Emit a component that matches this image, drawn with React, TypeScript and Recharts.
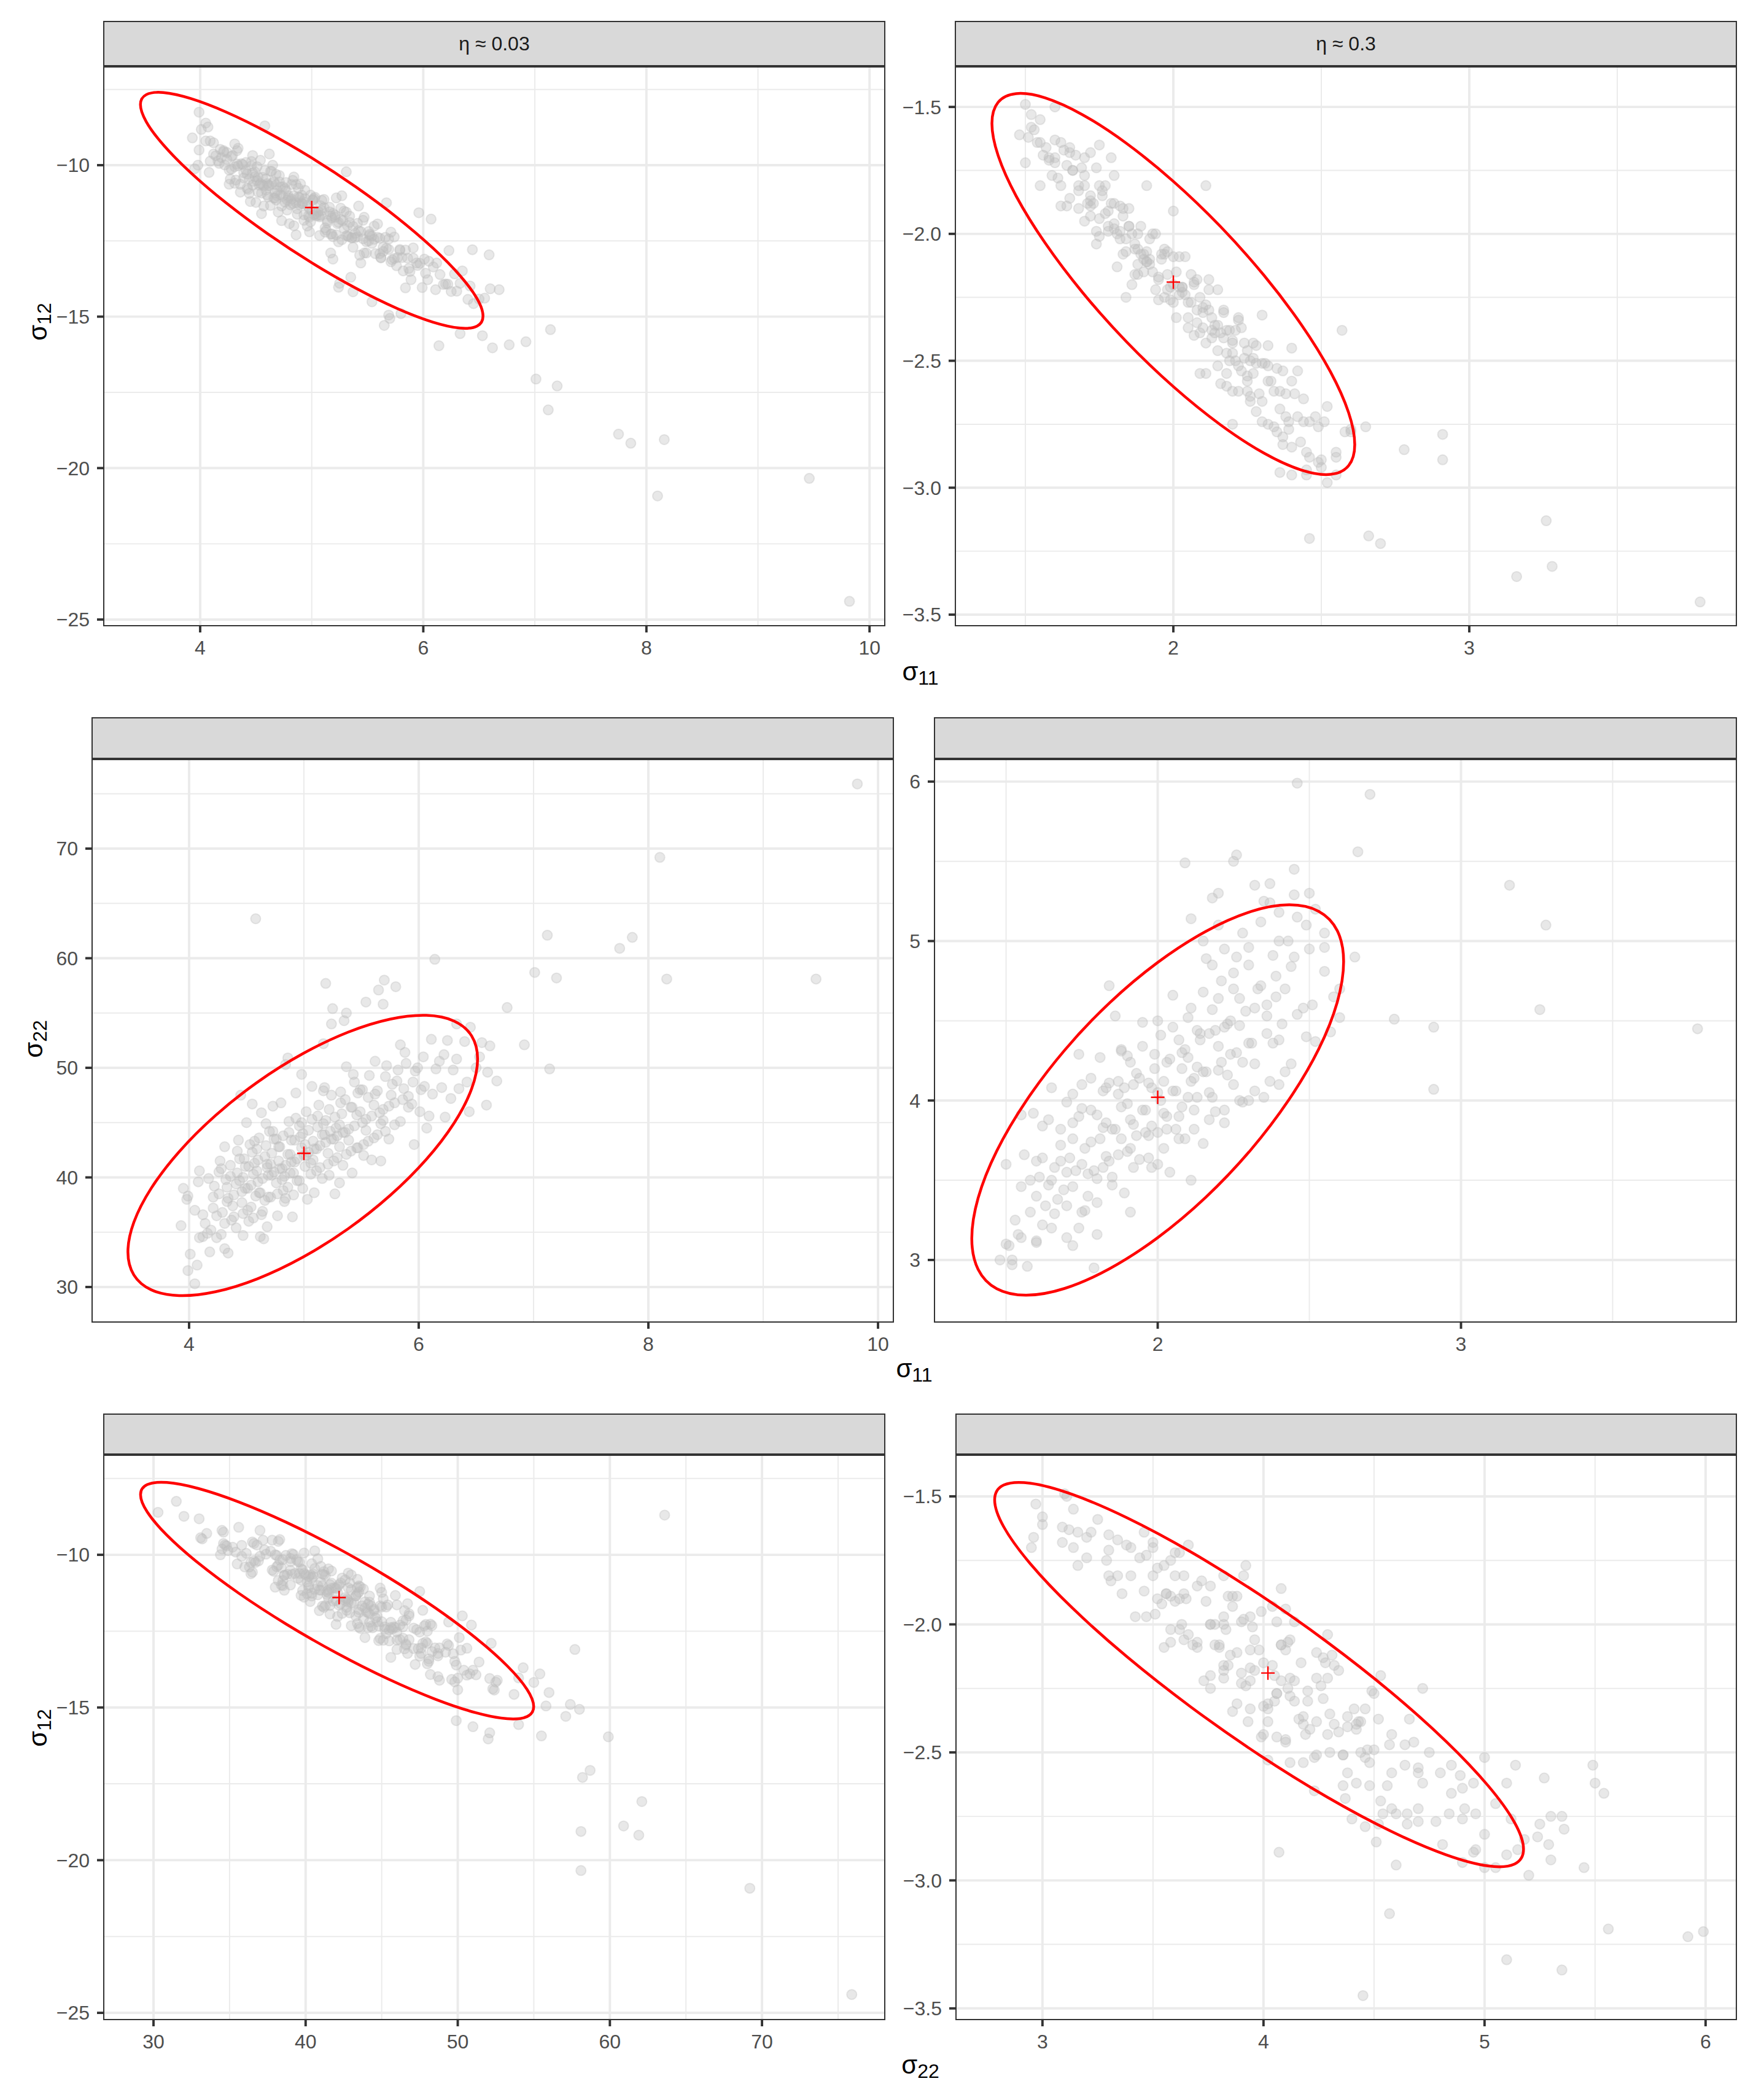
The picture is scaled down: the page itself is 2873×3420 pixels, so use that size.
import React from 'react'
import { ScatterChart, Scatter, XAxis, YAxis, CartesianGrid } from 'recharts'

const FONT = "'Liberation Sans', Arial, Helvetica, sans-serif"

// posterior draws, eta ~ 0.03: [sigma11, sigma22, sigma12]
const lowDraws = [
  [4.01, 33.0, -8.82], [3.98, 38.0, -10.0], [4.05, 30.3, -8.61], [4.12, 36.6, -9.63], [4.09, 40.6, -9.87],
  [4.16, 34.9, -9.86], [4.21, 38.2, -9.56], [4.18, 33.2, -9.48], [4.26, 40.5, -10.63], [4.24, 36.5, -9.58],
  [4.31, 42.8, -10.6], [4.28, 34.8, -9.71], [4.33, 37.8, -9.52], [4.36, 40.1, -10.89], [4.34, 33.1, -9.44],
  [4.41, 39.4, -10.16], [4.39, 36.4, -10.25], [4.42, 42.4, -10.76], [4.46, 37.7, -9.88], [4.44, 41.7, -10.93],
  [4.47, 34.7, -9.68], [4.51, 39.0, -10.51], [4.49, 41.0, -10.38], [4.52, 36.0, -10.4], [4.5, 45.0, -11.23],
  [4.56, 40.3, -10.65], [4.54, 37.3, -9.84], [4.57, 43.3, -11.35], [4.61, 38.6, -10.67], [4.59, 42.6, -10.82],
  [4.62, 34.6, -9.63], [4.6, 39.6, -10.61], [4.66, 41.9, -11.08], [4.64, 36.9, -10.2], [4.67, 44.9, -11.09],
  [4.71, 41.2, -10.55], [4.69, 38.2, -10.84], [4.72, 40.2, -10.71], [4.7, 44.2, -11.55], [4.76, 39.5, -10.77],
  [4.74, 43.5, -11.02], [4.77, 36.5, -10.57], [4.81, 40.8, -11.31], [4.79, 42.8, -11.08], [4.82, 38.8, -10.64],
  [4.8, 46.8, -11.93], [4.86, 42.1, -11.24], [4.84, 38.1, -10.39], [4.87, 45.1, -11.44], [4.91, 40.4, -11.26],
  [4.89, 43.4, -11.07], [4.92, 41.4, -11.2], [4.9, 36.4, -10.62], [4.96, 44.7, -12.01], [4.94, 39.7, -10.83],
  [5.0, 42.0, -11.5], [5.02, 46.0, -11.64], [4.99, 39.0, -10.99], [5.01, 43.0, -11.14], [5.06, 41.3, -11.66],
  [5.04, 44.3, -11.67], [5.07, 48.3, -12.32], [5.11, 42.6, -11.4], [5.09, 38.6, -11.16], [5.12, 45.6, -12.21],
  [5.16, 43.9, -11.54], [5.14, 40.9, -11.83], [5.17, 47.9, -12.28], [5.21, 42.2, -11.65], [5.19, 45.2, -12.36],
  [5.22, 40.2, -11.08], [5.26, 43.5, -11.79], [5.24, 47.5, -12.53], [5.27, 38.5, -11.01], [5.31, 44.8, -12.33],
  [5.29, 41.8, -11.52], [5.32, 46.8, -12.0], [5.36, 44.1, -12.39], [5.34, 41.1, -11.68], [5.37, 50.1, -12.71],
  [5.41, 46.4, -12.36], [5.39, 43.4, -12.25], [5.42, 40.4, -11.35], [5.46, 45.7, -12.43], [5.44, 48.7, -13.23],
  [5.47, 42.7, -11.72], [5.51, 45.0, -12.19], [5.49, 48.0, -12.9], [5.52, 42.0, -12.28], [5.56, 47.3, -12.45],
  [5.54, 44.3, -12.34], [5.61, 46.6, -12.92], [5.59, 41.6, -11.94], [5.62, 50.6, -13.06], [5.66, 45.9, -12.38],
  [5.64, 43.9, -12.71], [5.71, 49.2, -13.19], [5.69, 45.2, -12.44], [5.76, 47.5, -13.32], [5.74, 43.5, -12.37],
  [5.81, 48.8, -13.05], [5.79, 44.8, -12.81], [5.86, 47.1, -13.07], [5.84, 52.1, -14.05], [5.91, 46.4, -12.73],
  [5.89, 50.4, -13.78], [5.95, 48.7, -13.31], [6.01, 46.0, -13.1], [5.99, 50.0, -14.04], [6.05, 48.3, -13.17],
  [6.11, 52.6, -14.11], [6.09, 45.6, -13.36], [6.15, 49.9, -13.61], [6.2, 48.2, -13.92], [6.25, 52.5, -14.17],
  [6.3, 49.8, -14.16], [6.35, 48.1, -13.49], [6.4, 52.4, -14.43], [6.5, 50.0, -14.42], [6.55, 52.3, -14.39],
  [5.31, 39.5, -10.22], [5.67, 41.5, -11.24], [5.96, 43.0, -11.57], [6.07, 44.5, -11.78], [6.23, 45.5, -12.82],
  [6.44, 46.0, -12.79], [6.59, 46.6, -12.96], [6.68, 48.8, -14.11], [7.14, 49.9, -15.43], [5.65, 57.1, -15.29],
  [5.19, 57.7, -13.1], [5.7, 58.0, -15.06], [5.8, 57.4, -14.9], [5.25, 55.4, -13.9], [6.14, 59.9, -15.96],
  [6.62, 52.0, -16.03], [6.77, 55.5, -15.93], [6.92, 52.1, -15.83], [6.33, 54.0, -15.56], [6.53, 51.0, -15.63],
  [7.01, 58.7, -17.06], [7.12, 62.1, -18.08], [7.2, 58.2, -17.29], [7.75, 60.9, -18.88], [7.86, 61.9, -19.18],
  [8.1, 69.2, -20.92], [8.16, 58.1, -19.06], [9.46, 58.1, -20.34], [9.82, 75.9, -24.4], [4.58, 63.6, -8.7],
  [3.99, 31.5, -8.25], [3.93, 35.6, -9.1], [3.99, 38.3, -9.5], [4.05, 37.0, -9.2], [5.35, 54.3, -13.7],
  [4.86, 50.9, -12.3], [4.84, 50.3, -12.0], [5.17, 52.2, -12.9], [4.98, 49.4, -12.2], [4.55, 46.7, -11.6],
  [4.45, 47.5, -11.2], [4.09, 34.5, -9.2], [4.31, 33.5, -9.3], [4.65, 34.4, -10.0], [4.68, 35.5, -10.3],
  [3.95, 39.0, -10.12], [4.07, 32.0, -8.74], [5.24, 54.0, -14.03], [5.37, 55.0, -14.18], [5.54, 56.0, -14.51],
  [5.69, 55.8, -14.95],
  [4.12, 34.6, -9.26], [4.08, 39.6, -10.24], [4.14, 35.8, -9.69], [4.17, 39.9, -9.94], [4.19, 35.2, -9.75],
  [4.22, 39.2, -9.99], [4.21, 37.2, -9.52], [4.24, 34.5, -9.81], [4.27, 41.5, -10.46], [4.26, 38.5, -10.16],
  [4.29, 36.8, -9.68], [4.32, 39.8, -10.49], [4.31, 35.8, -10.05], [4.28, 40.8, -10.13], [4.34, 38.1, -10.02],
  [4.37, 36.1, -9.95], [4.36, 41.1, -10.63], [4.33, 39.1, -9.96], [4.39, 38.4, -10.42], [4.42, 40.4, -10.29],
  [4.41, 35.4, -9.91], [4.38, 37.4, -9.98], [4.43, 43.4, -10.8], [4.44, 39.7, -10.46], [4.47, 36.7, -10.25],
  [4.46, 38.7, -10.02], [4.48, 41.7, -10.53], [4.49, 39.0, -10.22], [4.52, 41.0, -10.89], [4.51, 37.0, -10.05],
  [4.53, 43.0, -10.66], [4.47, 40.0, -10.66], [4.54, 39.3, -10.61], [4.57, 41.3, -10.68], [4.56, 36.3, -10.4],
  [4.58, 38.3, -10.17], [4.55, 42.3, -10.92], [4.59, 40.6, -10.45], [4.62, 38.6, -10.67], [4.61, 43.6, -11.05],
  [4.63, 36.6, -10.2], [4.6, 41.6, -10.98], [4.64, 39.9, -10.61], [4.67, 42.9, -10.92], [4.66, 37.9, -10.54],
  [4.68, 40.9, -11.15], [4.63, 45.9, -11.33], [4.69, 40.2, -11.01], [4.72, 42.2, -10.98], [4.71, 38.2, -10.34],
  [4.73, 44.2, -11.35], [4.68, 41.2, -10.65], [4.74, 40.5, -10.71], [4.77, 38.5, -10.84], [4.76, 43.5, -11.22],
  [4.78, 41.5, -11.15], [4.73, 46.5, -11.83], [4.79, 40.8, -11.01], [4.82, 43.8, -11.12], [4.81, 39.8, -11.17],
  [4.83, 37.8, -10.5], [4.78, 42.8, -11.48], [4.84, 41.1, -11.01], [4.87, 44.1, -11.62], [4.86, 39.1, -10.64],
  [4.88, 42.1, -11.05], [4.83, 40.1, -11.27], [4.89, 41.4, -11.3], [4.92, 43.4, -11.27], [4.91, 38.4, -10.99],
  [4.93, 45.4, -11.64], [4.88, 40.4, -10.76], [4.94, 41.7, -11.1], [4.97, 43.7, -11.67], [4.96, 39.7, -11.33],
  [4.98, 42.7, -11.44], [4.93, 47.7, -11.82], [5.01, 41.0, -11.16], [4.99, 44.0, -11.87], [5.02, 42.0, -11.1],
  [5.03, 38.0, -11.06], [4.98, 45.0, -11.71], [5.04, 42.3, -11.6], [5.07, 45.3, -11.71], [5.06, 40.3, -11.53],
  [5.08, 43.3, -11.34], [5.09, 42.6, -11.5], [5.12, 44.6, -12.07], [5.11, 40.6, -11.13], [5.13, 46.6, -12.14],
  [5.08, 41.6, -11.66], [5.14, 42.9, -11.9], [5.17, 44.9, -11.67], [5.16, 39.9, -11.39], [5.18, 43.9, -11.74],
  [5.19, 43.2, -11.59], [5.22, 46.2, -12.3], [5.21, 41.2, -11.72], [5.23, 44.2, -11.93], [5.18, 48.2, -12.27],
  [5.24, 43.5, -11.89], [5.27, 45.5, -12.46], [5.26, 41.5, -11.42], [5.28, 44.5, -11.83], [5.29, 43.8, -12.09],
  [5.32, 47.8, -12.33], [5.31, 42.8, -11.55], [5.33, 45.8, -12.36], [5.34, 44.1, -11.89], [5.37, 42.1, -12.02],
  [5.36, 47.1, -12.4], [5.39, 44.4, -12.39], [5.42, 46.4, -12.16], [5.41, 42.4, -11.92], [5.43, 49.4, -12.97],
  [5.44, 44.7, -12.19], [5.47, 47.7, -12.9], [5.46, 42.7, -11.82], [5.49, 46.0, -12.53], [5.52, 43.0, -12.32],
  [5.51, 48.0, -12.5], [5.54, 45.3, -12.58], [5.57, 49.3, -12.92], [5.56, 43.3, -12.01], [5.59, 45.6, -12.38],
  [5.62, 47.6, -13.05], [5.61, 43.6, -12.41], [5.64, 47.9, -12.85], [5.67, 44.9, -12.74], [5.69, 46.2, -12.78],
  [5.72, 50.2, -13.12], [5.71, 44.2, -12.21], [5.74, 46.5, -13.08], [5.77, 48.5, -13.05], [5.79, 46.8, -12.78],
  [5.82, 49.8, -13.49], [5.84, 45.1, -12.8], [5.87, 48.1, -13.41], [5.91, 47.4, -13.07], [5.88, 51.4, -13.51],
  [5.94, 46.7, -13.23], [5.97, 49.7, -13.24], [6.02, 48.0, -13.57], [6.04, 51.0, -13.78], [6.12, 47.6, -13.23],
  [6.18, 50.6, -13.94], [6.22, 51.2, -13.93], [6.28, 47.2, -13.59], [6.33, 50.8, -13.9], [6.45, 53.7, -14.57],
  [6.42, 48.7, -13.99], [6.6, 49.6, -14.08],
]

// posterior draws, eta ~ 0.3: [sigma11, sigma22, sigma12]
const highDraws = [
  [1.5, 3.1, -1.49], [1.5, 3.6, -1.72], [1.52, 2.97, -1.53], [1.55, 3.46, -1.64], [1.55, 3.91, -1.81],
  [1.58, 3.3, -1.71], [1.6, 3.62, -1.72], [1.6, 3.12, -1.63], [1.62, 3.84, -1.89], [1.64, 3.47, -1.73],
  [1.65, 4.08, -1.86], [1.66, 3.29, -1.75], [1.68, 3.62, -1.9], [1.68, 3.82, -1.81], [1.7, 3.14, -1.7],
  [1.7, 3.99, -1.95], [1.72, 3.76, -1.85], [1.72, 3.46, -1.87], [1.74, 4.29, -2.04], [1.75, 3.6, -1.81],
  [1.75, 3.95, -2.01], [1.76, 3.31, -1.83], [1.78, 3.74, -1.91], [1.78, 4.14, -1.99], [1.8, 3.51, -1.96],
  [1.8, 3.91, -1.98], [1.8, 3.16, -1.77], [1.81, 4.27, -2.13], [1.82, 3.83, -2.02], [1.83, 3.65, -1.9],
  [1.84, 4.11, -2.07], [1.85, 3.47, -1.97], [1.85, 3.82, -1.97], [1.86, 4.53, -2.2], [1.87, 4.04, -2.16],
  [1.88, 3.76, -2.0], [1.88, 4.31, -2.12], [1.89, 3.42, -1.97], [1.9, 3.98, -2.1], [1.9, 3.68, -2.08],
  [1.91, 4.24, -2.11], [1.92, 3.85, -2.12], [1.93, 4.17, -2.15], [1.94, 3.63, -2.0], [1.95, 3.94, -2.17],
  [1.95, 4.49, -2.26], [1.96, 3.8, -2.08], [1.97, 4.11, -2.25], [1.98, 3.58, -2.07], [1.99, 4.29, -2.21],
  [2.0, 4.05, -2.2], [2.0, 3.8, -2.09], [2.01, 4.41, -2.33], [2.02, 3.92, -2.24], [2.03, 4.24, -2.21],
  [2.04, 3.55, -2.09], [2.05, 4.06, -2.27], [2.05, 4.66, -2.37], [2.06, 3.82, -2.16], [2.07, 4.38, -2.4],
  [2.08, 4.2, -2.3], [2.09, 3.76, -2.25], [2.1, 4.27, -2.29], [2.1, 4.02, -2.31], [2.11, 4.58, -2.43],
  [2.12, 3.94, -2.22], [2.13, 4.21, -2.41], [2.14, 4.42, -2.39], [2.15, 3.73, -2.22], [2.15, 4.18, -2.36],
  [2.16, 4.89, -2.59], [2.17, 4.05, -2.3], [2.18, 4.57, -2.47], [2.19, 3.93, -2.38], [2.2, 4.34, -2.42],
  [2.2, 4.19, -2.43], [2.21, 4.75, -2.5], [2.22, 3.86, -2.34], [2.23, 4.48, -2.54], [2.24, 4.29, -2.43],
  [2.25, 4.1, -2.46], [2.25, 4.7, -2.56], [2.27, 4.47, -2.49], [2.28, 3.99, -2.44], [2.3, 4.96, -2.74],
  [2.3, 4.36, -2.51], [2.32, 4.23, -2.52], [2.33, 4.7, -2.58], [2.35, 4.02, -2.53], [2.36, 4.53, -2.69],
  [2.38, 4.91, -2.72], [2.4, 4.38, -2.58], [2.42, 4.7, -2.72], [2.44, 4.23, -2.65], [2.45, 5.29, -2.86],
  [2.48, 4.58, -2.72], [2.5, 4.95, -2.89], [2.52, 4.37, -2.68], [2.55, 4.81, -2.86], [2.58, 4.65, -2.78],
  [1.6, 3.11, -1.5], [1.48, 3.0, -1.61], [1.53, 3.25, -1.59], [2.11, 3.5, -1.81], [1.91, 3.3, -1.81],
  [2.0, 3.6, -1.91], [2.09, 5.49, -2.55], [2.25, 5.5, -2.62], [2.26, 5.54, -2.66], [2.32, 5.35, -2.75],
  [2.37, 5.36, -2.8], [2.18, 5.27, -2.6], [2.37, 5.24, -2.83], [2.11, 5.14, -2.55], [1.84, 4.72, -2.25],
  [1.51, 3.09, -1.62], [1.52, 3.0, -1.58], [1.57, 2.96, -1.66], [1.79, 2.95, -1.7], [1.72, 3.09, -1.68],
  [1.55, 3.14, -1.55], [2.7, 5.92, -3.22], [2.46, 5.99, -3.2], [2.66, 5.56, -3.19], [2.91, 4.46, -2.79],
  [2.91, 4.07, -2.89], [2.78, 4.51, -2.85], [3.78, 4.45, -3.45], [3.28, 5.1, -3.31], [3.26, 4.57, -3.13],
  [3.16, 5.35, -3.35], [2.57, 4.43, -2.38], [2.45, 4.9, -2.93], [2.49, 5.1, -2.9], [2.6, 4.7, -2.77],
  [2.65, 4.9, -2.76], [2.4, 5.0, -2.95], [2.36, 4.6, -2.94], [2.3, 4.0, -2.32], [2.4, 4.1, -2.45],
  [1.75, 3.3, -1.65], [1.65, 3.5, -1.68], [2.45, 5.45, -2.95], [2.2, 5.3, -2.75], [2.52, 5.2, -2.98],
  [1.56, 3.66, -1.69], [1.54, 3.16, -1.64], [1.61, 3.52, -1.78], [1.59, 3.92, -1.77], [1.62, 3.22, -1.64],
  [1.66, 3.58, -1.75], [1.64, 3.88, -1.89], [1.67, 3.38, -1.69], [1.71, 3.64, -1.88], [1.69, 3.44, -1.74],
  [1.72, 4.04, -1.93], [1.7, 3.34, -1.81], [1.76, 3.7, -1.85], [1.74, 3.9, -1.99], [1.77, 3.4, -1.81],
  [1.75, 4.1, -1.94], [1.81, 3.76, -2.0], [1.79, 3.56, -1.88], [1.82, 4.06, -1.99], [1.8, 3.36, -1.88],
  [1.83, 3.86, -1.93], [1.86, 3.82, -2.0], [1.84, 3.62, -2.02], [1.87, 4.12, -2.06], [1.85, 3.52, -1.9],
  [1.88, 4.32, -2.16], [1.91, 3.88, -2.11], [1.89, 4.08, -2.08], [1.92, 3.58, -2.02], [1.9, 4.28, -2.15],
  [1.93, 3.78, -2.0], [1.96, 3.94, -2.1], [1.94, 4.14, -2.22], [1.97, 3.64, -2.06], [1.95, 4.34, -2.18],
  [1.98, 3.84, -2.16], [2.01, 4.0, -2.15], [1.99, 4.2, -2.26], [2.02, 3.7, -2.09], [2.0, 4.5, -2.27],
  [2.03, 3.9, -2.23], [2.06, 4.06, -2.27], [2.04, 4.26, -2.24], [2.07, 3.76, -2.2], [2.05, 4.46, -2.33],
  [2.08, 3.96, -2.18], [2.11, 4.12, -2.28], [2.09, 4.32, -2.39], [2.12, 3.82, -2.18], [2.1, 4.52, -2.37],
  [2.13, 4.02, -2.33], [2.16, 4.18, -2.39], [2.14, 4.38, -2.36], [2.17, 3.88, -2.31], [2.15, 4.68, -2.46],
  [2.21, 4.24, -2.38], [2.19, 4.44, -2.5], [2.22, 3.94, -2.33], [2.2, 4.64, -2.47], [2.26, 4.3, -2.5],
  [2.24, 4.5, -2.49], [2.27, 4.0, -2.43], [2.25, 4.8, -2.58], [2.31, 4.36, -2.51], [2.29, 4.56, -2.63],
  [2.32, 4.06, -2.44], [2.36, 4.42, -2.62], [2.34, 4.72, -2.62], [2.37, 4.12, -2.54], [2.41, 4.48, -2.63],
  [2.39, 4.78, -2.77], [2.42, 4.18, -2.54], [2.46, 4.54, -2.74], [2.44, 4.84, -2.74], [2.51, 4.6, -2.74],
  [2.49, 4.4, -2.76], [2.55, 4.96, -2.88], [2.6, 4.52, -2.78],
  [1.78, 3.94, -1.97], [1.77, 3.54, -1.92], [1.82, 3.58, -1.89], [1.83, 4.08, -2.08], [1.88, 3.96, -2.06],
  [1.87, 3.66, -2.04], [1.92, 4.1, -2.1], [1.91, 3.7, -2.07], [1.98, 4.08, -2.22], [1.97, 3.78, -2.08],
  [2.02, 4.12, -2.21], [2.03, 3.82, -2.21], [2.08, 4.3, -2.35], [2.07, 3.9, -2.19], [2.12, 4.14, -2.3],
  [2.13, 4.44, -2.38], [2.18, 4.02, -2.38], [2.17, 4.42, -2.41], [2.22, 4.46, -2.52], [2.23, 4.16, -2.37],
  [2.28, 4.24, -2.51], [2.27, 4.64, -2.55], [2.32, 4.58, -2.58], [2.38, 4.36, -2.63], [1.72, 3.86, -1.89],
  [1.73, 3.56, -1.88], [1.68, 3.72, -1.83], [1.62, 3.64, -1.81], [1.63, 3.34, -1.67],
  [2.22, 4.95, -2.62], [2.28, 5.05, -2.7], [2.34, 5.12, -2.76], [2.4, 5.18, -2.84], [2.3, 4.85, -2.66],
  [2.43, 5.0, -2.82], [2.5, 5.3, -2.92], [2.35, 5.25, -2.78], [2.18, 4.85, -2.55], [2.26, 4.9, -2.64],
  [2.46, 5.15, -2.88], [2.55, 5.05, -2.95], [2.15, 5.0, -2.52], [2.39, 4.65, -2.74], [2.2, 5.1, -2.62],
  [1.6, 3.4, -1.7], [1.7, 3.55, -1.77], [1.65, 3.2, -1.66], [1.58, 3.5, -1.7], [1.74, 3.2, -1.74],
]

// true values (red crosses): [sigma11, sigma22, sigma12]
const lowCentre = [5.0, 42.2, -11.4]
const highCentre = [2.0, 4.02, -2.19]

// red ellipse outlines
const ellLow11v12 = [
  [6.553, -15.02], [6.5, -14.447], [6.345, -13.672], [6.098, -12.749], [5.777, -11.739], [5.402, -10.713],
  [5.0, -9.74], [4.598, -8.885], [4.224, -8.209], [3.902, -7.757], [3.655, -7.558], [3.5, -7.627],
  [3.447, -7.96], [3.5, -8.533], [3.655, -9.308], [3.902, -10.231], [4.223, -11.241], [4.598, -12.267],
  [5.0, -13.24], [5.402, -14.095], [5.776, -14.771], [6.098, -15.223], [6.345, -15.422], [6.5, -15.353],
]
const ellHigh11v12 = [
  [2.62, -2.8375], [2.599, -2.7098], [2.537, -2.5472], [2.438, -2.3608], [2.31, -2.1633], [2.161, -1.9682],
  [2.0, -1.7885], [1.839, -1.6366], [1.69, -1.5233], [1.562, -1.4558], [1.463, -1.4388], [1.401, -1.4734],
  [1.38, -1.5575], [1.401, -1.6852], [1.463, -1.8478], [1.562, -2.0342], [1.69, -2.2317], [1.839, -2.4268],
  [2.0, -2.6065], [2.161, -2.7584], [2.31, -2.8717], [2.438, -2.9392], [2.537, -2.9562], [2.599, -2.9216],
]
const ellLow11v22 = [
  [6.53, 50.9], [6.478, 53.03], [6.324, 54.4], [6.079, 54.93], [5.76, 54.58], [5.389, 53.38],
  [4.99, 51.39], [4.591, 48.77], [4.22, 45.68], [3.901, 42.35], [3.656, 38.99], [3.502, 35.84],
  [3.45, 33.1], [3.502, 30.97], [3.656, 29.6], [3.901, 29.07], [4.22, 29.42], [4.591, 30.62],
  [4.99, 32.61], [5.389, 35.23], [5.76, 38.32], [6.079, 41.65], [6.324, 45.01], [6.478, 48.16],
]
const ellHigh11v22 = [
  [2.62, 4.881], [2.599, 5.077], [2.537, 5.2], [2.438, 5.241], [2.31, 5.198], [2.161, 5.073],
  [2.0, 4.876], [1.839, 4.619], [1.69, 4.32], [1.562, 3.999], [1.463, 3.68], [1.401, 3.381],
  [1.38, 3.125], [1.401, 2.929], [1.463, 2.806], [1.562, 2.765], [1.69, 2.808], [1.839, 2.933],
  [2.0, 3.13], [2.161, 3.387], [2.31, 3.686], [2.438, 4.007], [2.537, 4.326], [2.599, 4.625],
]
const ellLow22v12 = [
  [55.14, -15.01], [54.696, -14.439], [53.389, -13.667], [51.31, -12.748], [48.605, -11.743], [45.455, -10.722],
  [42.07, -9.754], [38.685, -8.904], [35.535, -8.233], [32.83, -7.784], [30.751, -7.587], [29.444, -7.657],
  [29.0, -7.99], [29.444, -8.561], [30.751, -9.333], [32.83, -10.252], [35.535, -11.257], [38.685, -12.278],
  [42.07, -13.246], [45.455, -14.096], [48.605, -14.767], [51.31, -15.216], [53.389, -15.413], [54.696, -15.343],
]
const ellHigh22v12 = [
  [5.19, -2.886], [5.149, -2.7804], [5.028, -2.635], [4.835, -2.4597], [4.585, -2.2665], [4.293, -2.0685],
  [3.98, -1.879], [3.667, -1.7111], [3.375, -1.5765], [3.125, -1.4841], [2.932, -1.44], [2.811, -1.4474],
  [2.77, -1.506], [2.811, -1.6116], [2.932, -1.757], [3.125, -1.9323], [3.375, -2.1255], [3.667, -2.3235],
  [3.98, -2.513], [4.293, -2.6809], [4.585, -2.8155], [4.835, -2.9079], [5.028, -2.952], [5.149, -2.9446],
]

const ticks11Low = [4, 6, 8, 10]
const minor11Low = [5, 7, 9]
const ticks12Low = [-25, -20, -15, -10]
const minor12Low = [-22.5, -17.5, -12.5, -7.5]
const ticks22Low = [30, 40, 50, 60, 70]
const minor22Low = [35, 45, 55, 65, 75]
const ticks11High = [2, 3]
const minor11High = [1.5, 2.5, 3.5]
const ticks12High = [-3.5, -3, -2.5, -2, -1.5]
const minor12High = [-3.25, -2.75, -2.25, -1.75]
const ticks22High = [3, 4, 5, 6]
const minor22High = [3.5, 4.5, 5.5]

const AXW = 170
const AXH = 90

const pick = (rows: number[][], xi: number, yi: number) => rows.map((r) => ({ x: r[xi], y: r[yi] }))
const toXY = (rows: number[][]) => rows.map(([x, y]) => ({ x, y }))
const fmt = (dec: number) => (v: number) => (v < 0 ? '\u2212' : '') + Math.abs(v).toFixed(dec)

const Dot = (p: any) => (
  <circle cx={p.cx} cy={p.cy} r={8} fill="#bebebe" fillOpacity={0.35} stroke="#bebebe" strokeOpacity={0.35} strokeWidth={2} />
)
const Cross = (p: any) => (
  <path d={`M${p.cx - 11},${p.cy}H${p.cx + 11}M${p.cx},${p.cy - 11}V${p.cy + 11}`} stroke="#ff0000" strokeWidth={2.4} fill="none" />
)
const Hidden = () => <g />

const panels = [
  {
    plot: [168, 108, 1442, 1020], stripTop: 34, label: 'η ≈ 0.03',
    xDomain: [3.1304, 10.142], yDomain: [-25.224, -6.736],
    xTicks: ticks11Low, xMinor: minor11Low, yTicks: ticks12Low, yMinor: minor12Low, xDec: 0, yDec: 0,
    pts: pick(lowDraws, 0, 2), ell: toXY(ellLow11v12), centre: [{ x: lowCentre[0], y: lowCentre[2] }],
  },
  {
    plot: [1555, 108, 2829, 1020], stripTop: 34, label: 'η ≈ 0.3',
    xDomain: [1.2614, 3.9046], yDomain: [-3.546, -1.34],
    xTicks: ticks11High, xMinor: minor11High, yTicks: ticks12High, yMinor: minor12High, xDec: 0, yDec: 1,
    pts: pick(highDraws, 0, 2), ell: toXY(ellHigh11v12), centre: [{ x: highCentre[0], y: highCentre[2] }],
  },
  {
    plot: [149, 1236, 1456, 2154], stripTop: 1168, label: '',
    xDomain: [3.15, 10.139], yDomain: [26.75, 78.18],
    xTicks: ticks11Low, xMinor: minor11Low, yTicks: ticks22Low, yMinor: minor22Low, xDec: 0, yDec: 0,
    pts: pick(lowDraws, 0, 1), ell: toXY(ellLow11v22), centre: [{ x: lowCentre[0], y: lowCentre[1] }],
  },
  {
    plot: [1521, 1236, 2829, 2154], stripTop: 1168, label: '',
    xDomain: [1.262, 3.91], yDomain: [2.607, 6.142],
    xTicks: ticks11High, xMinor: minor11High, yTicks: ticks22High, yMinor: minor22High, xDec: 0, yDec: 0,
    pts: pick(highDraws, 0, 1), ell: toXY(ellHigh11v22), centre: [{ x: highCentre[0], y: highCentre[1] }],
  },
  {
    plot: [168, 2369, 1442, 3290], stripTop: 2302, label: '',
    xDomain: [26.69, 78.11], yDomain: [-25.24, -6.72],
    xTicks: ticks22Low, xMinor: minor22Low, yTicks: ticks12Low, yMinor: minor12Low, xDec: 0, yDec: 0,
    pts: pick(lowDraws, 1, 2), ell: toXY(ellLow22v12), centre: [{ x: lowCentre[1], y: lowCentre[2] }],
  },
  {
    plot: [1556, 2369, 2829, 3290], stripTop: 2302, label: '',
    xDomain: [2.606, 6.142], yDomain: [-3.546, -1.337],
    xTicks: ticks22High, xMinor: minor22High, yTicks: ticks12High, yMinor: minor12High, xDec: 0, yDec: 1,
    pts: pick(highDraws, 1, 2), ell: toXY(ellHigh22v12), centre: [{ x: highCentre[1], y: highCentre[2] }],
  },
]

const xTitles = [
  { x: 1499, y: 1108, sub: '11' },
  { x: 1489, y: 2243, sub: '11' },
  { x: 1499, y: 3377, sub: '22' },
]
const yTitles = [
  { x: 76, y: 524, sub: '12' },
  { x: 69, y: 1692, sub: '22' },
  { x: 76, y: 2814, sub: '12' },
]

function Panel({ s }: { s: any }) {
  const [l, t, r, b] = s.plot
  const w = r - l
  const h = b - t
  const tickStyle = { fill: '#4d4d4d', fontSize: 32, fontFamily: FONT }
  return (
    <>
      <div
        style={{
          position: 'absolute', left: l, top: s.stripTop, width: w, height: t - s.stripTop,
          background: '#d9d9d9', border: '2.3px solid #333333', boxSizing: 'border-box',
          display: 'flex', alignItems: 'center', justifyContent: 'center',
          fontFamily: FONT, fontSize: 32, color: '#1a1a1a',
        }}
      >
        {s.label}
      </div>
      <div style={{ position: 'absolute', left: l - AXW, top: t }}>
        <ScatterChart width={AXW + w} height={h + AXH} margin={{ top: 0, right: 0, bottom: 0, left: 0 }}>
          <CartesianGrid stroke="#ebebeb" strokeWidth={1.95} horizontalValues={s.yMinor} verticalValues={s.xMinor} />
          <CartesianGrid stroke="#ebebeb" strokeWidth={3.9} horizontalValues={s.yTicks} verticalValues={s.xTicks} />
          <XAxis
            type="number" dataKey="x" domain={s.xDomain} ticks={s.xTicks} allowDataOverflow interval={0}
            height={AXH} axisLine={false} tickSize={10} tickMargin={13}
            tickLine={{ stroke: '#333333', strokeWidth: 3.9 }} tick={tickStyle} tickFormatter={fmt(s.xDec)}
          />
          <YAxis
            type="number" dataKey="y" domain={s.yDomain} ticks={s.yTicks} allowDataOverflow interval={0}
            width={AXW} axisLine={false} tickSize={10} tickMargin={12}
            tickLine={{ stroke: '#333333', strokeWidth: 3.9 }} tick={tickStyle} tickFormatter={fmt(s.yDec)}
          />
          <Scatter data={s.pts} shape={Dot} isAnimationActive={false} />
          <Scatter
            data={s.ell} shape={Hidden} isAnimationActive={false}
            line={{ stroke: '#ff0000', strokeWidth: 4.5, fill: 'none' }} lineJointType="basisClosed"
          />
          <Scatter data={s.centre} shape={Cross} isAnimationActive={false} />
        </ScatterChart>
      </div>
      <div
        style={{
          position: 'absolute', left: l, top: t, width: w, height: h,
          border: '2.3px solid #333333', boxSizing: 'border-box', pointerEvents: 'none',
        }}
      />
    </>
  )
}

export default function App() {
  return (
    <div style={{ position: 'relative', width: 2873, height: 3420, background: '#ffffff', overflow: 'hidden' }}>
      <style>{'body{margin:0}'}</style>
      {panels.map((s, i) => (
        <Panel key={i} s={s} />
      ))}
      <svg width={2873} height={3420} style={{ position: 'absolute', left: 0, top: 0, pointerEvents: 'none' }}>
        {xTitles.map((tt, i) => (
          <text key={'x' + i} x={tt.x} y={tt.y} textAnchor="middle" fontFamily={FONT} fontSize={42} fill="#000000">
            σ<tspan fontSize={32} dy={7}>{tt.sub}</tspan>
          </text>
        ))}
        {yTitles.map((tt, i) => (
          <text
            key={'y' + i} x={tt.x} y={tt.y} textAnchor="middle" fontFamily={FONT} fontSize={42} fill="#000000"
            transform={`rotate(-90 ${tt.x} ${tt.y})`}
          >
            σ<tspan fontSize={32} dy={7}>{tt.sub}</tspan>
          </text>
        ))}
      </svg>
    </div>
  )
}
